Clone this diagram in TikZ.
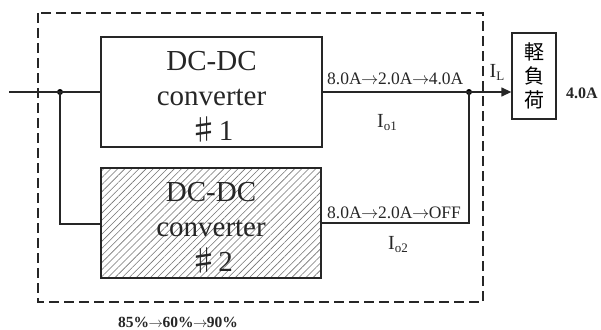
\documentclass[tikz,border=0pt]{standalone}
\usepackage{fontspec}
\setmainfont{Liberation Serif}
\newfontfamily\cjkfont{Noto Sans CJK JP}
\usetikzlibrary{arrows.meta,patterns.meta}
\newcommand{\lowsub}[1]{\raisebox{-0.35ex}{\fontsize{13}{13}\selectfont #1}}
\newcommand{\ra}{\kern-0.5pt\(\rightarrow\)\kern-0.5pt}
\tikzset{
  wire/.style={line width=1.3pt, draw=black!85},
  conv/.style={draw=black!85, line width=1.5pt},
  bigtxt/.style={font=\fontsize{29}{35}\selectfont, align=center, text=black!85},
  lbl/.style={font=\fontsize{17.5}{19}\selectfont, text=black!85, inner sep=0pt},
  curr/.style={font=\fontsize{20}{22}\selectfont, text=black!85, inner sep=0pt},
  dotnode/.style={circle, fill=black, inner sep=0pt, minimum size=6pt},
}
\begin{document}
\begin{tikzpicture}[x=1pt,y=-1pt]
\useasboundingbox (0,0) rectangle (601,329);

% module boundary
\draw[line width=1.2pt, black!85, dash pattern=on 10pt off 5pt] (38,13) rectangle (483,302);

% converter blocks
\draw[conv] (101,37) rectangle (322,147);
\fill[pattern={Lines[angle=45,distance=5pt,line width=0.6pt]}, pattern color=black!55] (101,168) rectangle (321,278);
\draw[conv] (101,168) rectangle (321,278);
\coordinate (c1w) at (101,92);
\coordinate (c1e) at (322,92);
\coordinate (c2w) at (101,224);
\coordinate (c2e) at (321,223);

\node[bigtxt] (t1) at (211.5,97) {DC-DC\\converter\\{\cjkfont ♯}1};
\node[bigtxt] (t2) at (211,228) {DC-DC\\converter\\{\cjkfont ♯}2};

% wiring
\coordinate (in) at (9,92);
\node[dotnode] (j1) at (60,92) {};
\node[dotnode] (j2) at (469,92) {};
\coordinate (j1b) at (60,224);
\coordinate (j2b) at (469,223);

\draw[wire] (in) -- (c1w);
\draw[wire] (j1.center) -- (j1b) -- (c2w);
\draw[wire] (c1e) -- (j2.center);
\draw[wire] (c2e) -- (j2b) -- (j2.center);

% load
\node[draw=black!85, line width=1.3pt, minimum width=44pt, minimum height=86pt, inner sep=0pt,
      font=\cjkfont\fontsize{20}{24}\selectfont, align=center] (load) at (534,76) {軽\\負\\荷};
\draw[wire, -{Triangle[length=10pt,width=9pt]}] (j2.center) -- (load.west |- j2);

% labels
\node[lbl, anchor=base west] (a1) at (327,84) {8.0A\ra 2.0A\ra 4.0A};
\node[curr, anchor=base] (i1) at (387,127) {I\lowsub{o1}};
\node[lbl, anchor=base west] (a2) at (327,218) {8.0A\ra 2.0A\ra OFF};
\node[curr, anchor=base] (i2) at (398,249) {I\lowsub{o2}};
\node[curr, anchor=base] (il) at (497,77) {I\lowsub{L}};
\node[lbl, anchor=base west, font=\bfseries\fontsize{16}{18}\selectfont] (out) at (566,98) {4.0A};
\node[lbl, anchor=base, font=\bfseries\fontsize{15.5}{17}\selectfont] (eff) at (178,327) {85\%\ra 60\%\ra 90\%};
\end{tikzpicture}
\end{document}
